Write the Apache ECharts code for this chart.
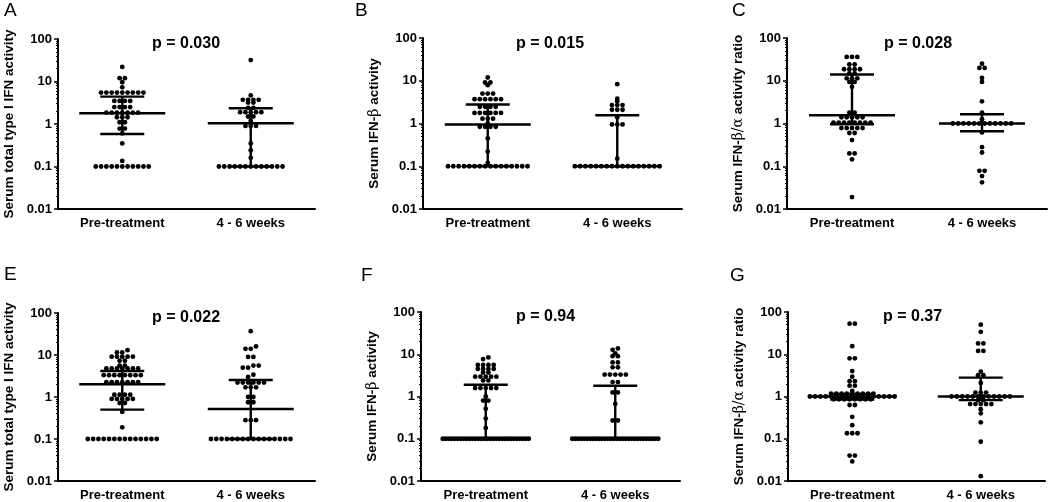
<!DOCTYPE html>
<html><head><meta charset="utf-8">
<script src="https://cdn.jsdelivr.net/npm/echarts@6/dist/echarts.min.js"></script>
<style>html,body{margin:0;padding:0;background:#fff}#c{width:1050px;height:502px}</style>
</head><body><div id="c"></div>
<script>
// ---------- DATA ----------
const categories = ['Pre-treatment', '4 - 6 weeks'];
const panelLetters = ['A', 'B', 'C', 'E', 'F', 'G'];
const pValues = ['p = 0.030', 'p = 0.015', 'p = 0.028', 'p = 0.022', 'p = 0.94', 'p = 0.37'];
const yNames = ['Serum total type I IFN activity', 'Serum IFN-β activity', 'Serum IFN-β/α activity ratio',
                'Serum total type I IFN activity', 'Serum IFN-β activity', 'Serum IFN-β/α activity ratio'];
const yTickValues = [0.01, 0.1, 1, 10, 100];
const yTickLabels = ['0.01', '0.1', '1', '10', '100'];

// A: total type I IFN (first cohort)
const aPre = [22, 12, 12, 9.6, 7.3, 5.5, 5.5, 5.5, 5.5, 5.5, 5.5, 5.5, 5.5, 5.5, 3.5, 3.5, 3.5, 3.5,
  2.5, 2.5, 2.5, 2.5, 1.85, 1.85, 1.85, 1.85, 1.85, 1.85, 1.85, 1.44, 1.44, 1.44, 1.1, 1.1, 0.78, 0.78,
  0.6, 0.35, 0.135, 0.1, 0.1, 0.1, 0.1, 0.1, 0.1, 0.1, 0.1, 0.1, 0.1, 0.1];
const aPost = [32, 4.7, 3.7, 3.7, 3.7, 3.7, 3.2, 3.2, 2.4, 2.4, 1.9, 1.9, 1.9, 1.9, 1.9, 1.5, 1.5, 1.2,
  0.9, 0.9, 0.9, 0.35, 0.24, 0.16, 0.1, 0.1, 0.1, 0.1, 0.1, 0.1, 0.1, 0.1, 0.1, 0.1, 0.1, 0.1, 0.1];
// B: IFN-beta (first cohort)
const bPre = [11.9, 9.1, 9.1, 7.9, 5, 5, 5, 3.7, 3.7, 3.7, 3.7, 3.7, 3.7, 2.45, 2.45, 2.45, 2.45,
  1.77, 1.77, 1.77, 1.77, 1.77, 1.77, 1.3, 1.3, 1.3, 1.0, 0.84, 0.84, 0.84, 0.84, 0.45, 0.22, 0.12,
  0.1, 0.1, 0.1, 0.1, 0.1, 0.1, 0.1, 0.1, 0.1, 0.1, 0.1, 0.1, 0.1, 0.1, 0.1, 0.1];
const bPost = [8.3, 3.8, 3.3, 2.7, 2.7, 2.7, 2.1, 2.1, 2.1, 1.4, 0.95, 0.95, 0.95, 0.15,
  0.1, 0.1, 0.1, 0.1, 0.1, 0.1, 0.1, 0.1, 0.1, 0.1, 0.1, 0.1, 0.1, 0.1, 0.1, 0.1, 0.1];
// C: IFN-beta/alpha ratio (first cohort)
const cPre = [36, 36, 36, 24, 24, 18.6, 18.6, 18.6, 18.6, 14.8, 14.8, 11.4, 11.4, 11.4, 9.4, 9.4, 7.2,
  1.8, 1.8, 1.4, 1.4, 1.4, 1.4, 1.4, 1.05, 1.05, 1.05, 1.05, 1.05, 1.05, 1.05, 1.05,
  0.78, 0.78, 0.78, 0.78, 0.78, 0.6, 0.6, 0.41, 0.2, 0.2, 0.145, 0.019];
const cPost = [25, 20, 20, 11.6, 9.4, 3.3, 1.8, 1.26, 1, 1, 1, 1, 1, 1, 1, 1, 1, 1, 1, 1,
  0.62, 0.28, 0.21, 0.078, 0.078, 0.059, 0.042];
// E: total type I IFN (second cohort)
const ePre = [13, 11.5, 11.5, 9.1, 9.1, 9.1, 9.1, 9.1, 7.3, 7.3, 5.6, 5.6, 4.8, 4.8, 4.8, 4.8, 4.8, 4.8, 4.8,
  3.3, 3.3, 3.3, 3.3, 3.3, 3.3, 3.3, 3.3, 2.25, 2.25, 2.25, 2.25, 2.25, 2.25, 2.25,
  1.13, 1.13, 1.13, 1.13, 0.9, 0.9, 0.9, 0.9, 0.9, 0.72, 0.72, 0.44, 0.19,
  0.1, 0.1, 0.1, 0.1, 0.1, 0.1, 0.1, 0.1, 0.1, 0.1, 0.1, 0.1, 0.1, 0.1];
const ePost = [37, 16, 14, 14, 9, 9, 5.6, 5.6, 5, 5, 3.4, 3.0, 2.2, 2.2, 2.2, 2.2, 2.2, 2.2,
  1.7, 1.7, 1.7, 1.0, 1.0, 0.75, 0.75, 0.28, 0.28, 0.28,
  0.1, 0.1, 0.1, 0.1, 0.1, 0.1, 0.1, 0.1, 0.1, 0.1, 0.1, 0.1, 0.1, 0.1, 0.1, 0.1];
// F: IFN-beta (second cohort)
const fPre = [8.4, 7.7, 5.6, 5.6, 5.6, 5.6, 4.5, 4.5, 4.5, 4.5, 3.7, 3.7, 2.95, 2.95, 2.95, 2.95, 2.95,
  2.4, 2.4, 1.58, 1.58, 1.58, 1.58, 1.58, 1.0, 0.8, 0.8, 0.51, 0.3, 0.18,
  0.1, 0.1, 0.1, 0.1, 0.1, 0.1, 0.1, 0.1, 0.1, 0.1, 0.1, 0.1, 0.1, 0.1, 0.1,
  0.1, 0.1, 0.1, 0.1, 0.1, 0.1, 0.1, 0.1, 0.1, 0.1, 0.1, 0.1, 0.1, 0.1, 0.1];
const fPost = [13.7, 12.7, 10.5, 9, 9, 6.4, 6.4, 4.9, 4.9, 3.3, 3.3, 3.3, 3.3, 3.3, 2.2, 2.2,
  1.25, 1.25, 0.67, 0.27, 0.27,
  0.1, 0.1, 0.1, 0.1, 0.1, 0.1, 0.1, 0.1, 0.1, 0.1, 0.1, 0.1, 0.1, 0.1, 0.1,
  0.1, 0.1, 0.1, 0.1, 0.1, 0.1, 0.1, 0.1, 0.1, 0.1, 0.1, 0.1, 0.1, 0.1, 0.1];
// G: IFN-beta/alpha ratio (second cohort)
const gPre = [53, 53, 15.5, 8, 8, 4, 2.95, 2.3, 2.3, 1.8, 1.8, 1.35,
  1.17, 1.17, 1.17, 1.17, 1.17, 1.17, 1.17, 1.17, 1.17,
  1, 1, 1, 1, 1, 1, 1, 1, 1, 1, 1, 1, 1, 1, 1, 1, 1,
  0.86, 0.86, 0.86, 0.86, 0.86, 0.86, 0.86, 0.86, 0.63, 0.63, 0.33, 0.21, 0.135, 0.135, 0.135,
  0.04, 0.04, 0.029];
const gPost = [50, 34, 18, 18, 12, 12, 3.9, 3.2, 3.2, 2.1, 1.24, 1.24, 1.24,
  1, 1, 1, 1, 1, 1, 1, 1, 1, 1, 1, 1, 0.82, 0.82, 0.66, 0.66, 0.66, 0.66, 0.66,
  0.5, 0.4, 0.245, 0.085, 0.013];

// summary lines: [Q1, median, Q3]
const aPreStats = [0.58, 1.79, 4.4],  aPostStats = [0.1, 1.04, 2.34];
const bPreStats = [0.1, 0.95, 2.78],  bPostStats = [0.1, 0.1, 1.56];
const cPreStats = [0.96, 1.56, 14],   cPostStats = [0.66, 1.0, 1.65];
const ePreStats = [0.5, 2.02, 4.15],  ePostStats = [0.1, 0.52, 2.55];
const fPreStats = [0.1, 0.1, 1.9],    fPostStats = [0.1, 0.1, 1.8];
const gPreStats = [0.85, 1.0, 1.15],  gPostStats = [0.82, 1.0, 2.8];

// ---------- LAYOUT / STYLE ----------
const FONT = '"Liberation Sans", Arial, Helvetica, sans-serif';
const SERIF = '"DejaVu Serif", "Liberation Serif", serif';
const grids = [
  {left: 58, top: 39, width: 257, height: 170},
  {left: 423, top: 38, width: 259, height: 171},
  {left: 787, top: 38, width: 260, height: 171},
  {left: 58, top: 313, width: 257, height: 170.5},
  {left: 421, top: 312, width: 259, height: 171},
  {left: 788, top: 312, width: 257, height: 171}
];
const letterPos = [[4, 1], [355, 1], [732, 1], [4, 265], [361, 266], [730, 266]];
const pPos = [[152, 44], [516, 44], [884, 44], [152, 317.5], [516, 317], [883, 317]];
const groups = [[aPre, aPost], [bPre, bPost], [cPre, cPost], [ePre, ePost], [fPre, fPost], [gPre, gPost]];
const stats = [[aPreStats, aPostStats], [bPreStats, bPostStats], [cPreStats, cPostStats],
               [ePreStats, ePostStats], [fPreStats, fPostStats], [gPreStats, gPostStats]];
const DOT_SIZE = 4.8, GAP = 5.3, MAX_ROW = 86, ROW_TOL = 2.5;
const MED_HALF = 43, IQR_HALF = 22, LINE_W = 2.4;

// row-based dot layout (GraphPad-like): near-equal values share a row, centred on the column
function swarm(values, catIdx, g) {
  const decPx = g.height / 4, bandPx = g.width / 2;
  const sorted = values.slice().sort((a, b) => a - b);
  const rows = [];
  let cur = null;
  sorted.forEach(v => {
    const py = Math.log10(v) * decPx;
    if (cur && py - cur.start < ROW_TOL) cur.items.push(v);
    else { cur = {start: py, items: [v]}; rows.push(cur); }
  });
  const pts = [];
  rows.forEach(r => {
    const n = r.items.length;
    const s = n > 1 ? Math.min(GAP, MAX_ROW / (n - 1)) : 0;
    r.items.forEach((v, i) => pts.push([catIdx + 0.5 + (i - (n - 1) / 2) * s / bandPx, v]));
  });
  return pts;
}

function richName(name) {
  return name.split(/([β\/α]+)/).filter(s => s.length).map(s =>
    /^[β\/α]+$/.test(s) ? '{g|' + s + '}' : '{n|' + s + '}').join('');
}

const option = {
  backgroundColor: '#fff',
  animation: false,
  grid: grids.map(g => Object.assign({containLabel: false}, g)),
  xAxis: [], yAxis: [], series: [], graphic: []
};

grids.forEach((g, k) => {
  option.xAxis.push({
    type: 'category', gridIndex: k, data: categories, boundaryGap: true,
    axisLine: {lineStyle: {color: '#000', width: 2}},
    axisTick: {alignWithLabel: true, length: 4, lineStyle: {color: '#000', width: 1.5}},
    axisLabel: {color: '#000', fontFamily: FONT, fontWeight: 'bold', fontSize: 13, margin: 8},
    splitLine: {show: false}
  });
  option.xAxis.push({type: 'value', gridIndex: k, min: 0, max: 2, show: false});
  option.yAxis.push({
    type: 'log', logBase: 10, gridIndex: k, min: 0.01, max: 100,
    name: richName(yNames[k]), nameLocation: 'middle', nameGap: 42,
    nameTextStyle: {
      color: '#000',
      rich: {
        n: {fontFamily: FONT, fontWeight: 'bold', fontSize: 13.5, color: '#000'},
        g: {fontFamily: SERIF, fontWeight: 'normal', fontSize: 14, color: '#000'}
      }
    },
    axisLine: {show: true, lineStyle: {color: '#000', width: 2}},
    axisTick: {show: true, length: 4, lineStyle: {color: '#000', width: 1.5}},
    minorTick: {show: true, splitNumber: 9, length: 2, lineStyle: {color: '#000', width: 1}},
    splitLine: {show: false},
    axisLabel: {
      color: '#000', fontFamily: FONT, fontWeight: 'bold', fontSize: 13, margin: 6,
      formatter: v => {
        const i = yTickValues.findIndex(t => Math.abs(Math.log10(t) - Math.log10(v)) < 1e-6);
        return i >= 0 ? yTickLabels[i] : '';
      }
    }
  });
  groups[k].forEach((vals, ci) => {
    option.series.push({
      type: 'scatter', xAxisIndex: 2 * k + 1, yAxisIndex: k,
      data: swarm(vals, ci, g), symbol: 'circle', symbolSize: DOT_SIZE,
      itemStyle: {color: '#000', opacity: 1}, z: 2, silent: true
    });
  });
  option.series.push({
    type: 'custom', xAxisIndex: 2 * k + 1, yAxisIndex: k, z: 3, silent: true,
    data: stats[k].map((s, ci) => [ci + 0.5, s[0], s[1], s[2]]),
    renderItem: (params, api) => {
      const cx = api.value(0);
      const p1 = api.coord([cx, api.value(1)]);
      const pm = api.coord([cx, api.value(2)]);
      const p3 = api.coord([cx, api.value(3)]);
      const st = {stroke: '#000', lineWidth: LINE_W};
      const seg = (x1, y1, x2, y2) => ({type: 'line', shape: {x1, y1, x2, y2}, style: st});
      return {type: 'group', children: [
        seg(p1[0], p1[1], p3[0], p3[1]),
        seg(pm[0] - MED_HALF, pm[1], pm[0] + MED_HALF, pm[1]),
        seg(p1[0] - IQR_HALF, p1[1], p1[0] + IQR_HALF, p1[1]),
        seg(p3[0] - IQR_HALF, p3[1], p3[0] + IQR_HALF, p3[1])
      ]};
    }
  });
  option.graphic.push({
    type: 'text', x: letterPos[k][0], y: letterPos[k][1],
    style: {text: panelLetters[k], font: 'normal 19px ' + FONT, fill: '#000', textVerticalAlign: 'top'}
  });
  option.graphic.push({
    type: 'text', x: pPos[k][0], y: pPos[k][1],
    style: {text: pValues[k], font: 'bold 16px ' + FONT, fill: '#000', textVerticalAlign: 'middle'}
  });
});

const chart = echarts.init(document.getElementById('c'), null, {renderer: 'canvas'});
chart.setOption(option);
</script>
</body></html>
